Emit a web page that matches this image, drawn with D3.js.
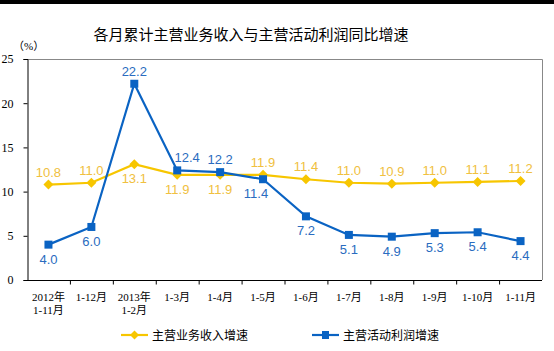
<!DOCTYPE html>
<html>
<head>
<meta charset="utf-8">
<script src="https://cdn.jsdelivr.net/npm/d3@7"></script>
<style>
  body { margin: 0; background: #fff; }
  svg { display: block; }
</style>
</head>
<body>
<svg id="chart" width="554" height="351"></svg>
<script>
const categories = ['2012年\n1-11月', '1-12月', '2013年\n1-2月', '1-3月', '1-4月', '1-5月',
  '1-6月', '1-7月', '1-8月', '1-9月', '1-10月', '1-11月'];
const revenue = [10.8, 11.0, 13.1, 11.9, 11.9, 11.9, 11.4, 11.0, 10.9, 11.0, 11.1, 11.2];
const profit = [4.0, 6.0, 22.2, 12.4, 12.2, 11.4, 7.2, 5.1, 4.9, 5.3, 5.4, 4.4];
// label above (1) or below (-1) the point
const revenueSide = [1, 1, -1, -1, -1, 1, 1, 1, 1, 1, 1, 1];
const profitSide = [-1, -1, 1, 1, 1, -1, -1, -1, -1, -1, -1, -1];
const yTicks = [0, 5, 10, 15, 20, 25];

const svg = d3.select('#chart');
const plotL = 27, plotR = 542, plotT = 59, plotB = 280;
const serif = '"Liberation Serif", "Noto Sans CJK SC", serif';
const sans = '"Liberation Sans", Arial, "Noto Sans CJK SC", sans-serif';
const yellow = '#f7c600', blue = '#0a63c3';

svg.append('rect').attr('width', 554).attr('height', 4).attr('fill', '#000');

svg.append('text')
  .attr('x', 251).attr('y', 40)
  .attr('text-anchor', 'middle')
  .attr('font-family', '"Noto Sans CJK SC", sans-serif')
  .attr('font-size', 15)
  .text('各月累计主营业务收入与主营活动利润同比增速');

const x = d3.scaleBand().domain(d3.range(categories.length)).range([plotL, plotR]);
const y = d3.scaleLinear().domain([0, 25]).range([plotB, plotT]);
const cx = i => x(i) + x.bandwidth() / 2;

// frame
svg.append('path')
  .attr('d', `M${plotL},${plotT + 0.5}H${plotR + 0.5}V${plotB}`)
  .attr('fill', 'none').attr('stroke', '#888').attr('stroke-width', 1);

const yAxis = svg.append('g')
  .attr('transform', `translate(${plotL + 0.5},0)`)
  .call(d3.axisLeft(y).tickValues(yTicks).tickSize(4).tickPadding(10));
yAxis.select('.domain').attr('stroke', '#000');
yAxis.selectAll('text').attr('font-family', serif).attr('font-size', 12).attr('fill', '#000');

const xAxis = svg.append('g').attr('transform', `translate(0,${plotB + 0.5})`);
xAxis.append('line').attr('x1', plotL).attr('x2', plotR).attr('stroke', '#000');
xAxis.selectAll('.tk').data(d3.range(1, categories.length)).enter()
  .append('line')
  .attr('x1', i => x(i) + 0.5).attr('x2', i => x(i) + 0.5)
  .attr('y1', 0).attr('y2', 4).attr('stroke', '#000');

const xl = xAxis.selectAll('.xl').data(categories).enter()
  .append('text')
  .attr('text-anchor', 'middle')
  .attr('font-family', serif).attr('font-size', 11);
xl.selectAll('tspan').data((d, i) => d.split('\n').map(s => ({ s, i }))).enter()
  .append('tspan')
  .attr('x', d => cx(d.i))
  .attr('y', (d, j) => 20 + j * 13)
  .text(d => d.s);

svg.append('text').attr('x', 13).attr('y', 50)
  .attr('font-family', serif).attr('font-size', 11).text('（%）');

const line = d3.line().x((d, i) => cx(i)).y(d => y(d));

function series(values, sides, color, labelColor, marker, shift) {
  const g = svg.append('g');
  g.append('path').datum(values)
    .attr('d', line).attr('fill', 'none')
    .attr('stroke', color).attr('stroke-width', 2.2);
  if (marker === 'diamond') {
    g.selectAll('.m').data(values).enter().append('path')
      .attr('d', 'M0,-5L5,0L0,5L-5,0Z')
      .attr('transform', (d, i) => `translate(${cx(i)},${y(d)})`)
      .attr('fill', color);
  } else {
    g.selectAll('.m').data(values).enter().append('rect')
      .attr('x', (d, i) => cx(i) - 4).attr('y', d => y(d) - 4)
      .attr('width', 8).attr('height', 8).attr('fill', color);
  }
  g.selectAll('.lb').data(values).enter().append('text')
    .attr('x', (d, i) => cx(i) + (shift[i] || 0))
    .attr('y', (d, i) => y(d) + (sides[i] > 0 ? -8 : 19))
    .attr('text-anchor', 'middle')
    .attr('font-family', sans).attr('font-size', 13)
    .attr('fill', labelColor)
    .text(d => d.toFixed(1));
}

series(revenue, revenueSide, yellow, '#f0c040', 'diamond', []);
series(profit, profitSide, blue, '#2a6cc0', 'square', { 3: 10, 5: -7 });

// legend
const legend = [
  { name: '主营业务收入增速', color: yellow, x: 121, marker: 'diamond' },
  { name: '主营活动利润增速', color: blue, x: 312, marker: 'square' }
];
const lg = svg.selectAll('.lg').data(legend).enter().append('g')
  .attr('transform', d => `translate(${d.x},335)`);
lg.append('line').attr('x1', 0).attr('x2', 27)
  .attr('stroke', d => d.color).attr('stroke-width', 2.2);
lg.append('path')
  .attr('d', d => d.marker === 'diamond' ? 'M13.5,-4.5L18,0L13.5,4.5L9,0Z' : 'M10,-4H17V4H10Z')
  .attr('fill', d => d.color);
lg.append('text').attr('x', 31).attr('y', 5)
  .attr('font-family', '"Noto Sans CJK SC", sans-serif').attr('font-size', 12)
  .text(d => d.name);
</script>
</body>
</html>
